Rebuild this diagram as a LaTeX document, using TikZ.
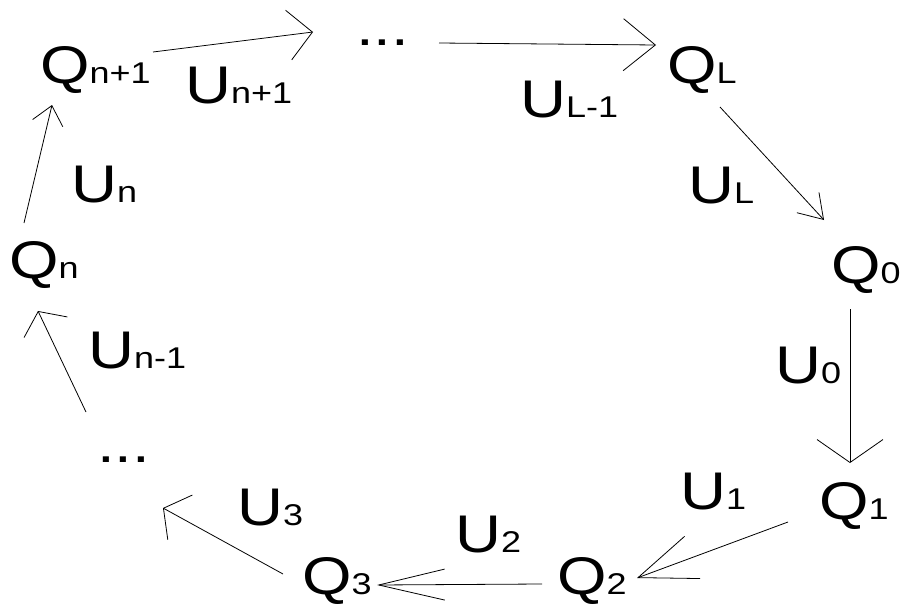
\documentclass[tikz,border=0pt]{standalone}
\usepackage{fontspec,graphicx}
\setmainfont{Liberation Sans}
\usetikzlibrary{arrows.meta}
\newcommand{\sym}[2]{\scalebox{1.2}[1]{#1{\fontsize{30}{30}\selectfont #2}}}

\begin{document}
\begin{tikzpicture}[x=1pt,y=-1pt,lbl/.style={anchor=base west,inner sep=0pt,font=\fontsize{53}{53}\selectfont},arr/.style={line width=0.8pt}]
\useasboundingbox (0,0) rectangle (906,608);
% states
\node[lbl] (qn1) at (40,83) {\sym{Q}{n+1}};
\node[lbl] (dotsA) at (356,45) {\scalebox{1.2}[1]{...}};
\node[lbl] (ql) at (667,83) {\sym{Q}{L}};
\node[lbl] (q0) at (831,283) {\sym{Q}{0}};
\node[lbl] (q1) at (819,519) {\sym{Q}{1}};
\node[lbl] (q2) at (557,594) {\sym{Q}{2}};
\node[lbl] (q3) at (302,594) {\sym{Q}{3}};
\node[lbl] (dotsB) at (97,462) {\scalebox{1.2}[1]{...}};
\node[lbl] (qn) at (9,278) {\sym{Q}{n}};
% operators
\node[lbl] (un1) at (185,103) {\sym{U}{n+1}};
\node[lbl] (ul1) at (520,117) {\sym{U}{L-1}};
\node[lbl] (ul) at (688,203) {\sym{U}{L}};
\node[lbl] (u0) at (775,383) {\sym{U}{0}};
\node[lbl] (u1) at (680,509) {\sym{U}{1}};
\node[lbl] (u2) at (455,552) {\sym{U}{2}};
\node[lbl] (u3) at (237,525) {\sym{U}{3}};
\node[lbl] (un_1) at (88,368) {\sym{U}{n-1}};
\node[lbl] (un) at (71,202) {\sym{U}{n}};
% transitions
\draw[arr,-{Straight Barb[length=24pt,width=50pt]}] ([shift={(113,-31)}]qn1.base west)--([shift={(-43,-13)}]dotsA.base west);
\draw[arr,-{Straight Barb[length=32pt,width=52pt]}] ([shift={(83,-2)}]dotsA.base west)--([shift={(-11,-38)}]ql.base west);
\draw[arr,-{Straight Barb[length=23pt,width=30pt]}] ([shift={(53,24)}]ql.base west)--([shift={(-7,-63)}]q0.base west);
\draw[arr,-{Straight Barb[length=23pt,width=66pt]}] ([shift={(19,26)}]q0.base west)--([shift={(31,-56)}]q1.base west);
\draw[arr,-{Straight Barb[length=58pt,width=45pt]}] ([shift={(-31,3)}]q1.base west)--([shift={(80,-16)}]q2.base west);
\draw[arr,-{Straight Barb[length=66pt,width=31pt]}] ([shift={(-15,-10)}]q2.base west)--([shift={(75,-9)}]q3.base west);
\draw[arr,-{Straight Barb[length=19pt,width=51pt]}] ([shift={(-19,-20)}]q3.base west)--([shift={(66,46)}]dotsB.base west);
\draw[arr,-{Straight Barb[length=17.5pt,width=48pt]}] ([shift={(-11,-50)}]dotsB.base west)--([shift={(29,33)}]qn.base west);
\draw[arr,-{Straight Barb[length=18pt,width=31pt]}] ([shift={(15,-55)}]qn.base west)--([shift={(12,22)}]qn1.base west);
\end{tikzpicture}
\end{document}
